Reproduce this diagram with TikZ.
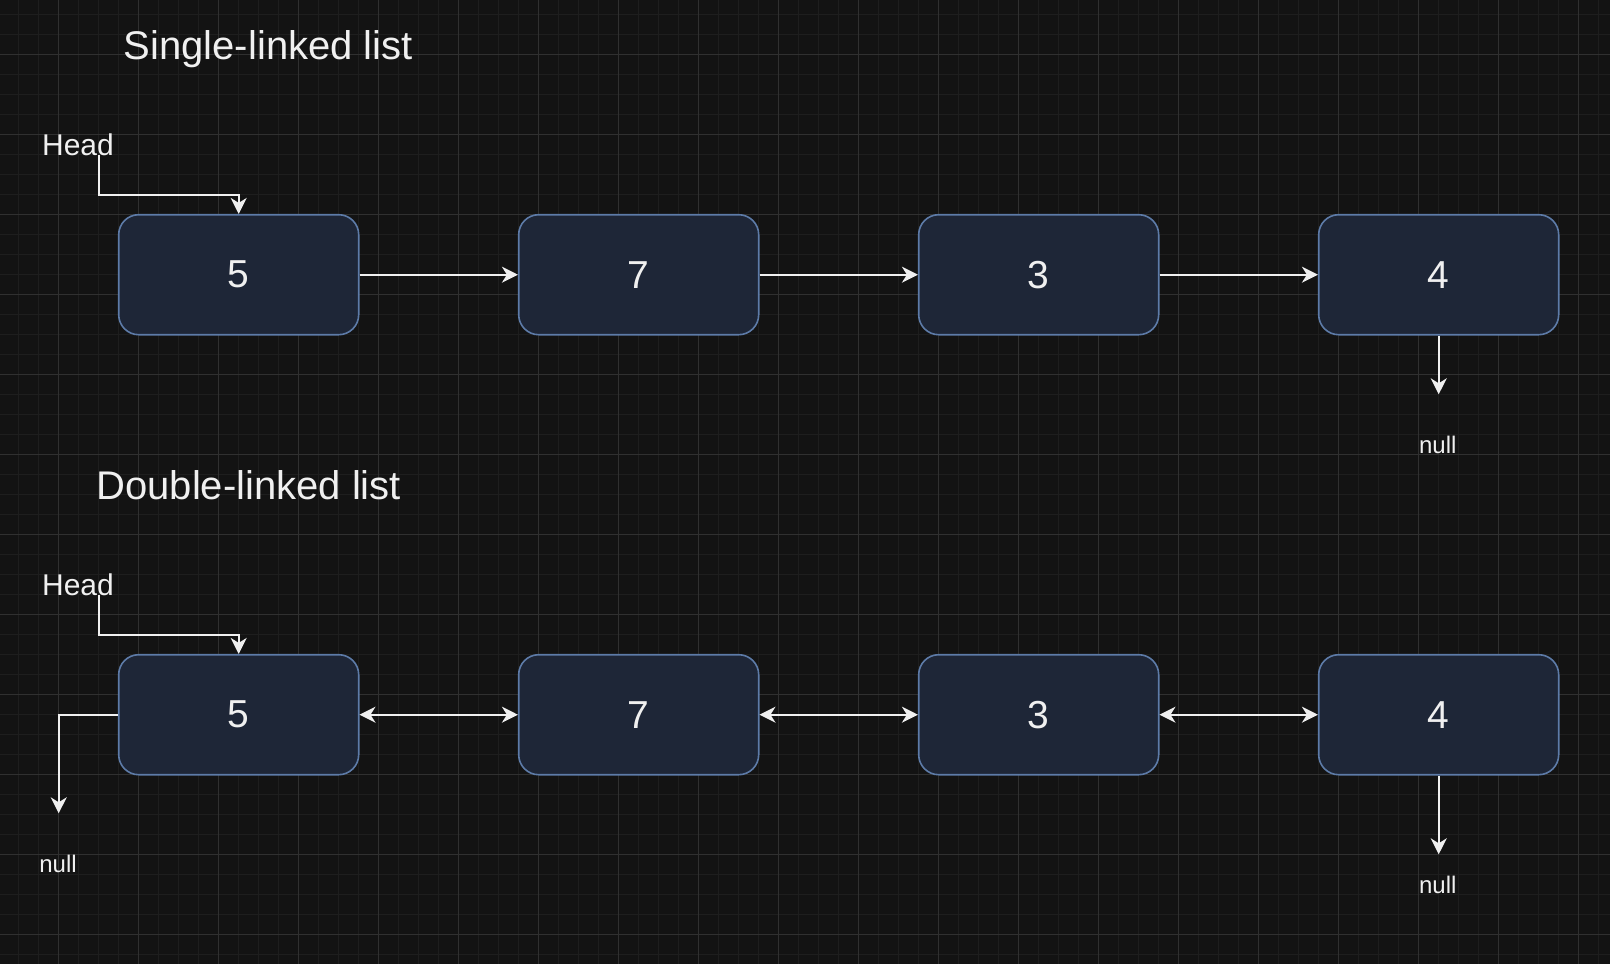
\documentclass[tikz,border=0pt]{standalone}
\usepackage{fontspec}
\setmainfont{Liberation Sans}
\usetikzlibrary{arrows.meta,calc}
\definecolor{bgc}{HTML}{131313}
\definecolor{gridminor}{HTML}{1E1E1E}
\definecolor{gridmajor}{HTML}{303030}
\definecolor{boxfill}{HTML}{1E2637}
\definecolor{boxline}{HTML}{5D7BA8}
\definecolor{txt}{HTML}{F0F0F0}
\tikzset{
  listbox/.style={draw=boxline, fill=boxfill, line width=1.6pt, rounded corners=20pt,
    minimum width=240pt, minimum height=120pt, inner sep=0pt, text=txt,
    font=\fontsize{39}{46}\selectfont},
  arr/.style={draw=txt, line width=1.8pt, -{Stealth[length=16pt,width=16pt,inset=5pt]}},
  darr/.style={draw=txt, line width=1.8pt, {Stealth[length=16pt,width=16pt,inset=5pt]}-{Stealth[length=16pt,width=16pt,inset=5pt]}},
  ttl/.style={text=txt, anchor=base, inner sep=0pt, font=\fontsize{40}{48}\selectfont},
  headlbl/.style={text=txt, anchor=base, inner sep=0pt, font=\fontsize{30}{36}\selectfont},
  nulllbl/.style={text=txt, anchor=base, inner sep=0pt, font=\fontsize{24}{29}\selectfont}
}
\begin{document}
\begin{tikzpicture}[x=1pt,y=-1pt]
\useasboundingbox (0,0) rectangle (1610,964);
\fill[bgc] (0,0) rectangle (1610,964);
% grid
\foreach \i in {0,...,80} {
  \draw[gridminor, line width=1.2pt] ({-1.3+20*\i},0) -- ({-1.3+20*\i},964);
}
\foreach \j in {0,...,48} {
  \draw[gridminor, line width=1.2pt] (0,{14.5+20*\j}) -- (1610,{14.5+20*\j});
}
\foreach \i in {0,...,20} {
  \draw[gridmajor, line width=1.2pt] ({58.7+80*\i},0) -- ({58.7+80*\i},964);
}
\foreach \j in {0,...,11} {
  \draw[gridmajor, line width=1.2pt] (0,{54.5+80*\j}) -- (1610,{54.5+80*\j});
}
% titles
\node[ttl] (t1) at (268.3,59.3) {Single-linked list};
\node[ttl] (t2) at (248.7,499.3) {Double-linked list};
% single-linked list
\node[listbox] (b1) at (238.7,274.7) {5};
\node[listbox] (b2) at (638.7,274.7) {7};
\node[listbox] (b3) at (1038.7,274.7) {3};
\node[listbox] (b4) at (1438.7,274.7) {4};
\node[headlbl] (h1) at (78,155) {Head};
\coordinate (h1s) at (98.7,155);
\coordinate (h1k) at (238.7,195);
\draw[arr] (h1s) |- (h1k) -- (b1.north);
\draw[arr] (b1.east) -- (b2.west);
\draw[arr] (b2.east) -- (b3.west);
\draw[arr] (b3.east) -- (b4.west);
\coordinate (n1t) at (1438.7,394.3);
\draw[arr] (b4.south) -- (n1t);
\node[nulllbl] (n1) at (1437.8,453) {null};
% double-linked list
\node[listbox] (d1) at (238.7,714.7) {5};
\node[listbox] (d2) at (638.7,714.7) {7};
\node[listbox] (d3) at (1038.7,714.7) {3};
\node[listbox] (d4) at (1438.7,714.7) {4};
\node[headlbl] (h2) at (78,595) {Head};
\coordinate (h2s) at (98.7,595);
\coordinate (h2k) at (238.7,635);
\draw[arr] (h2s) |- (h2k) -- (d1.north);
\draw[darr] (d1.east) -- (d2.west);
\draw[darr] (d2.east) -- (d3.west);
\draw[darr] (d3.east) -- (d4.west);
\coordinate (n2t) at (58.7,813.3);
\draw[arr] (d1.west) -| (n2t);
\node[nulllbl] (n2) at (58,872.7) {null};
\coordinate (n3t) at (1438.7,854.3);
\draw[arr] (d4.south) -- (n3t);
\node[nulllbl] (n3) at (1437.8,893) {null};
\end{tikzpicture}
\end{document}
